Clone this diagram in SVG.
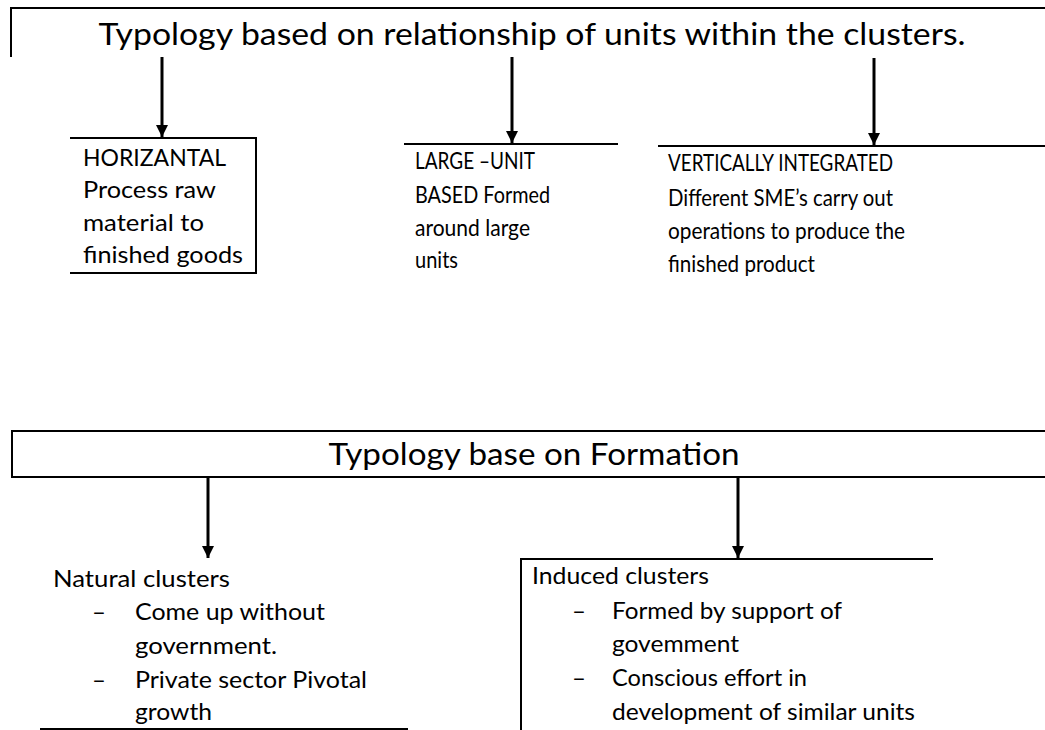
<svg xmlns="http://www.w3.org/2000/svg" width="1045" height="730" viewBox="0 0 1045 730">
  <style>
    .frame { fill: none; stroke: #000; stroke-width: 2; }
    .head { font-family: Lato, "Liberation Sans", sans-serif; font-size: 31px; fill: #000; }
    .body { font-family: Lato, "Liberation Sans", sans-serif; font-size: 24px; fill: #000; }
    .conn { fill: none; stroke: #000; stroke-width: 3; marker-end: url(#tip); }
  </style>
  <defs>
    <!-- solid triangular arrowhead, tip at the end of the line -->
    <marker id="tip" viewBox="0 0 12 12" refX="12" refY="6" markerWidth="12" markerHeight="12" markerUnits="userSpaceOnUse" orient="auto">
      <path d="M0,0 L12,6 L0,12 Z" fill="#000"/>
    </marker>
  </defs>

  <!-- top heading -->
  <g id="relationship-header">
    <path class="frame" d="M11,57 V8 H1045"/>
    <text class="head" x="532" y="45" text-anchor="middle" textLength="867" lengthAdjust="spacingAndGlyphs">Typology based on relationship of units within the clusters.</text>
  </g>

  <g id="horizontal">
    <path class="frame" d="M70,138 H256 V273 H70"/>
    <text class="body" x="83" y="166" textLength="143" lengthAdjust="spacingAndGlyphs">HORIZANTAL</text>
    <text class="body" x="83" y="198" textLength="133" lengthAdjust="spacingAndGlyphs">Process raw</text>
    <text class="body" x="83" y="231" textLength="121" lengthAdjust="spacingAndGlyphs">material to</text>
    <text class="body" x="83" y="263" textLength="160" lengthAdjust="spacingAndGlyphs">finished goods</text>
  </g>

  <g id="large-unit">
    <path class="frame" d="M404,144 H618"/>
    <text class="body" x="415" y="169" textLength="120" lengthAdjust="spacingAndGlyphs">LARGE –UNIT</text>
    <text class="body" x="415" y="203" textLength="135" lengthAdjust="spacingAndGlyphs">BASED Formed</text>
    <text class="body" x="415" y="236" textLength="115" lengthAdjust="spacingAndGlyphs">around large</text>
    <text class="body" x="415" y="268" textLength="43" lengthAdjust="spacingAndGlyphs">units</text>
  </g>

  <g id="vertically-integrated">
    <path class="frame" d="M658,146 H1045"/>
    <text class="body" x="668" y="171" textLength="225" lengthAdjust="spacingAndGlyphs">VERTICALLY INTEGRATED</text>
    <text class="body" x="668" y="206" textLength="225" lengthAdjust="spacingAndGlyphs">Different SME’s carry out</text>
    <text class="body" x="668" y="239" textLength="237" lengthAdjust="spacingAndGlyphs">operations to produce the</text>
    <text class="body" x="668" y="272" textLength="147" lengthAdjust="spacingAndGlyphs">finished product</text>
  </g>

  <!-- second heading -->
  <g id="formation-header">
    <path class="frame" d="M1045,431 H12 V477 H1045"/>
    <text class="head" x="534" y="465" text-anchor="middle" textLength="411" lengthAdjust="spacingAndGlyphs">Typology base on Formation</text>
  </g>

  <g id="natural">
    <path class="frame" d="M40,729 H408"/>
    <text class="body" x="53" y="587" textLength="177" lengthAdjust="spacingAndGlyphs">Natural clusters</text>
    <text class="body" x="92" y="620">–</text>
    <text class="body" x="135" y="620" textLength="190" lengthAdjust="spacingAndGlyphs">Come up without</text>
    <text class="body" x="135" y="654" textLength="142" lengthAdjust="spacingAndGlyphs">government.</text>
    <text class="body" x="92" y="688">–</text>
    <text class="body" x="135" y="688" textLength="232" lengthAdjust="spacingAndGlyphs">Private sector Pivotal</text>
    <text class="body" x="135" y="720" textLength="77" lengthAdjust="spacingAndGlyphs">growth</text>
  </g>

  <g id="induced">
    <path class="frame" d="M521,730 V559 H933"/>
    <text class="body" x="532" y="584" textLength="177" lengthAdjust="spacingAndGlyphs">Induced clusters</text>
    <text class="body" x="572" y="619">–</text>
    <text class="body" x="612" y="619" textLength="230" lengthAdjust="spacingAndGlyphs">Formed by support of</text>
    <text class="body" x="612" y="652" textLength="127" lengthAdjust="spacingAndGlyphs">govemment</text>
    <text class="body" x="572" y="686">–</text>
    <text class="body" x="612" y="686" textLength="195" lengthAdjust="spacingAndGlyphs">Conscious effort in</text>
    <text class="body" x="612" y="720" textLength="303" lengthAdjust="spacingAndGlyphs">development of similar units</text>
  </g>

  <g id="connectors">
    <path class="conn" d="M162,57 V137"/>
    <path class="conn" d="M512,57 V143"/>
    <path class="conn" d="M874,58 V145"/>
    <path class="conn" d="M208,477 V558"/>
    <path class="conn" d="M738,477 V558"/>
  </g>
</svg>
